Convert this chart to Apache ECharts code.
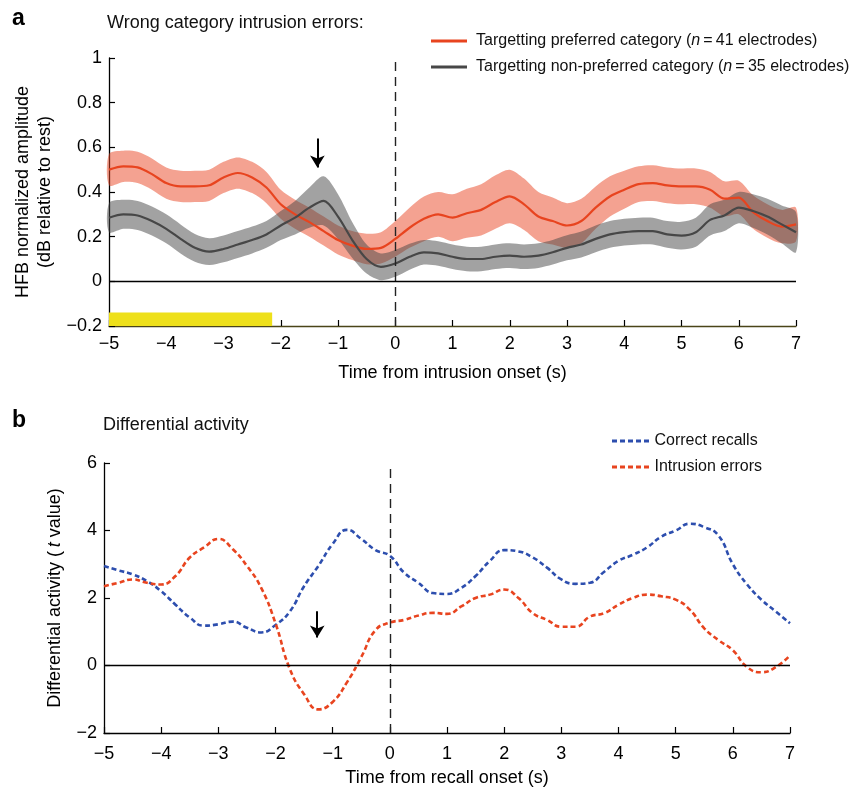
<!DOCTYPE html>
<html><head><meta charset="utf-8">
<script src="https://cdn.jsdelivr.net/npm/echarts@6/dist/echarts.min.js"></script>
<style>html,body{margin:0;padding:0;background:#fff}#c{width:850px;height:792px}</style>
</head><body><div id="c"></div>
<script>
// ---------- Panel a data ----------
const timeA = [-5,-4.75,-4.5,-4.25,-4,-3.75,-3.5,-3.25,-3,-2.75,-2.5,-2.25,-2,-1.75,-1.5,-1.25,-1,-0.75,-0.5,-0.25,0,0.25,0.5,0.75,1,1.25,1.5,1.75,2,2.25,2.5,2.75,3,3.25,3.5,3.75,4,4.25,4.5,4.75,5,5.25,5.5,5.75,6,6.25,6.5,6.75,7];
const preferredMean = [0.50,0.515,0.51,0.48,0.44,0.425,0.425,0.43,0.465,0.485,0.465,0.42,0.345,0.30,0.265,0.225,0.185,0.16,0.145,0.15,0.19,0.24,0.28,0.30,0.285,0.305,0.32,0.355,0.38,0.345,0.29,0.27,0.25,0.27,0.33,0.38,0.41,0.435,0.44,0.43,0.425,0.425,0.41,0.37,0.375,0.31,0.27,0.245,0.255];
const preferredSE = [0.07,0.07,0.07,0.07,0.07,0.07,0.07,0.07,0.07,0.07,0.07,0.07,0.065,0.065,0.065,0.065,0.065,0.065,0.068,0.07,0.08,0.09,0.1,0.1,0.105,0.11,0.115,0.12,0.12,0.115,0.11,0.105,0.1,0.1,0.095,0.09,0.085,0.08,0.08,0.08,0.08,0.08,0.08,0.078,0.075,0.075,0.075,0.075,0.075];
const nonPreferredMean = [0.285,0.30,0.295,0.27,0.235,0.19,0.15,0.133,0.145,0.165,0.185,0.21,0.25,0.285,0.33,0.36,0.29,0.185,0.10,0.065,0.08,0.11,0.13,0.125,0.11,0.10,0.10,0.11,0.115,0.11,0.115,0.13,0.15,0.165,0.19,0.21,0.22,0.225,0.225,0.21,0.205,0.22,0.275,0.295,0.33,0.315,0.29,0.255,0.22];
const nonPreferredSE = [0.065,0.065,0.065,0.065,0.065,0.065,0.062,0.06,0.06,0.06,0.06,0.06,0.065,0.075,0.09,0.11,0.1,0.08,0.065,0.06,0.06,0.058,0.055,0.055,0.055,0.055,0.055,0.055,0.055,0.055,0.055,0.055,0.056,0.058,0.06,0.06,0.06,0.06,0.06,0.06,0.062,0.065,0.07,0.07,0.07,0.075,0.08,0.085,0.09];
const xTicksA = [-5,7,1];          // min, max, interval
const yTicksA = [-0.2,1,0.2];
const yellowBar = [-5,-2.15,-0.2,-0.14];   // x0, x1, y0, y1
const arrowA = [-1.36,0.64,0.51];         // x, yStart, yEnd

// ---------- Panel b data ----------
const timeB = [-5,-4.75,-4.5,-4.25,-4,-3.75,-3.5,-3.25,-3,-2.75,-2.5,-2.25,-2,-1.75,-1.5,-1.25,-1,-0.75,-0.5,-0.25,0,0.25,0.5,0.75,1,1.25,1.5,1.75,2,2.25,2.5,2.75,3,3.25,3.5,3.75,4,4.25,4.5,4.75,5,5.25,5.5,5.75,6,6.25,6.5,6.75,7];
const correctRecalls = [2.95,2.82,2.7,2.5,2.2,1.8,1.42,1.18,1.22,1.3,1.12,0.98,1.2,1.6,2.35,2.95,3.6,4.02,3.75,3.42,3.25,2.75,2.45,2.15,2.12,2.3,2.65,3.1,3.42,3.38,3.2,2.9,2.55,2.42,2.45,2.78,3.1,3.28,3.5,3.82,4.0,4.2,4.1,3.85,3.0,2.4,1.95,1.6,1.25];
const intrusionErrors = [2.35,2.45,2.55,2.45,2.4,2.65,3.2,3.5,3.75,3.45,2.95,2.3,1.25,-0.1,-0.85,-1.3,-1.08,-0.5,0.25,1.05,1.27,1.35,1.48,1.56,1.53,1.75,2.0,2.1,2.25,2.0,1.55,1.35,1.15,1.15,1.45,1.55,1.8,2.0,2.1,2.05,1.95,1.65,1.1,0.75,0.45,-0.05,-0.2,-0.05,0.3];
const xTicksB = [-5,7,1];
const yTicksB = [-2,6,2];
const arrowB = [-1.27,1.61,0.83];

// ---------- helpers ----------
const FONT = '"Liberation Sans", Arial, Helvetica, sans-serif';
const fmt = v => { const r = +(+v).toFixed(1); return String(r).replace('-', '\u2212'); };
const pairs = (xs, ys) => xs.map((x, i) => [x, ys[i]]);

const RED = '#E8441F', GRAY = '#474747', BLUE = '#2D4EAE';
const DASH_ICON = 'path://M0,0h5v3h-5z M8,0h5v3h-5z M16,0h5v3h-5z M24,0h5v3h-5z M32,0h5v3h-5z';

function bandRender(times, mean, se, color) {
  return function (params, api) {
    if (params.dataIndex !== 0) return null;
    const up = times.map((t, i) => api.coord([t, mean[i] + se[i]]));
    const lo = times.map((t, i) => api.coord([t, mean[i] - se[i]])).reverse();
    return {
      type: 'group',
      children: [
        {type: 'polyline', shape: {points: up, smooth: 0.3}, style: {stroke: 'none', fill: null}},
        {type: 'polygon', shape: {points: up.concat(lo), smooth: 0.3}, style: {fill: color}}
      ]
    };
  };
}

function xAxisCfg(grid, ticks, name, gap, margin, lineColor) {
  return {
    gridIndex: grid, type: 'value', min: ticks[0], max: ticks[1], interval: ticks[2],
    axisLine: {onZero: false, lineStyle: {color: lineColor, width: 1.3}},
    axisTick: {inside: true, length: 6, lineStyle: {color: '#000', width: 1.2}},
    axisLabel: {formatter: fmt, fontSize: 18, color: '#000', margin: margin, fontFamily: FONT},
    splitLine: {show: false},
    name: name, nameLocation: 'middle', nameGap: gap,
    nameTextStyle: {fontSize: 18, color: '#000', fontFamily: FONT}
  };
}
function yAxisCfg(grid, ticks, name, gap, rich) {
  return {
    gridIndex: grid, type: 'value', min: ticks[0], max: ticks[1], interval: ticks[2],
    axisLine: {onZero: false, lineStyle: {color: '#000', width: 1.3}},
    axisTick: {inside: true, length: 6, lineStyle: {color: '#000', width: 1.2}},
    axisLabel: {formatter: fmt, fontSize: 18, color: '#000', margin: 7, fontFamily: FONT},
    splitLine: {show: false},
    name: name, nameLocation: 'middle', nameGap: gap, nameRotate: 90,
    nameTextStyle: Object.assign({fontSize: 18, color: '#000', fontFamily: FONT, lineHeight: 22}, rich ? {rich: rich} : {})
  };
}

const chart = echarts.init(document.getElementById('c'));
const legendRich = {
  t: {fontSize: 16, color: '#111', fontFamily: FONT},
  i: {fontSize: 16, color: '#111', fontStyle: 'italic', fontFamily: FONT}
};
const option = {
  animation: false,
  backgroundColor: '#fff',
  textStyle: {fontFamily: FONT},
  title: [
    {text: 'a', left: 12, top: 7, padding: 0, textStyle: {fontSize: 23, fontWeight: 'bold', color: '#000', fontFamily: FONT}},
    {text: 'Wrong category intrusion errors:', left: 107, top: 14, padding: 0, textStyle: {fontSize: 18, fontWeight: 'normal', color: '#111', fontFamily: FONT}},
    {text: 'b', left: 12, top: 409, padding: 0, textStyle: {fontSize: 23, fontWeight: 'bold', color: '#000', fontFamily: FONT}},
    {text: 'Differential activity', left: 103, top: 416, padding: 0, textStyle: {fontSize: 18, fontWeight: 'normal', color: '#111', fontFamily: FONT}}
  ],
  legend: [
    {
      data: [{name: 'pref', icon: 'rect'}, {name: 'nonpref', icon: 'rect'}],
      orient: 'vertical', left: 431, top: 32, padding: 0,
      itemWidth: 36, itemHeight: 3, itemGap: 8,
      formatter: n => n === 'pref'
        ? '{t|Targetting preferred category (}{i|n}{t|\u2009=\u200941 electrodes)}'
        : '{t|Targetting non-preferred category (}{i|n}{t|\u2009=\u200935 electrodes)}',
      textStyle: {rich: legendRich, lineHeight: 18, padding: [0, 0, 0, 4]},
      selectedMode: false
    },
    {
      data: [{name: 'Correct recalls', icon: DASH_ICON}, {name: 'Intrusion errors', icon: DASH_ICON}],
      orient: 'vertical', left: 612, top: 432, padding: 0,
      itemWidth: 38, itemHeight: 3, itemGap: 8,
      textStyle: {fontSize: 16, color: '#111', lineHeight: 18, fontFamily: FONT},
      selectedMode: false
    }
  ],
  grid: [
    {left: 109, right: 54, top: 58, height: 268},
    {left: 104, right: 60, top: 463, height: 270}
  ],
  xAxis: [
    xAxisCfg(0, xTicksA, 'Time from intrusion onset (s)', 38, 9, '#4a4418'),
    xAxisCfg(1, xTicksB, 'Time from recall onset (s)', 36, 12, '#000')
  ],
  yAxis: [
    yAxisCfg(0, yTicksA, 'HFB normalized amplitude\n(dB relative to rest)', 51),
    yAxisCfg(1, yTicksB, '{t|Differential activity (\u2009}{i|t}{t| value)}', 38, {
      t: {fontSize: 18, color: '#000', fontFamily: FONT},
      i: {fontSize: 18, color: '#000', fontStyle: 'italic', fontFamily: FONT}
    })
  ],
  series: [
    // SE bands
    {name: 'prefBand', type: 'custom', xAxisIndex: 0, yAxisIndex: 0, silent: true, z: 1,
     data: pairs(timeA, preferredMean),
     renderItem: bandRender(timeA, preferredMean, preferredSE, 'rgba(234,70,36,0.5)'),
     markArea: {silent: true, itemStyle: {color: '#EEE01A', opacity: 1},
       data: [[{xAxis: yellowBar[0], yAxis: yellowBar[2]}, {xAxis: yellowBar[1], yAxis: yellowBar[3]}]]}},
    {name: 'nonBand', type: 'custom', xAxisIndex: 0, yAxisIndex: 0, silent: true, z: 2,
     data: pairs(timeA, nonPreferredMean),
     renderItem: bandRender(timeA, nonPreferredMean, nonPreferredSE, 'rgba(70,70,70,0.5)')},
    // means
    {name: 'pref', type: 'line', xAxisIndex: 0, yAxisIndex: 0, data: pairs(timeA, preferredMean),
     smooth: 0.3, symbol: 'none', lineStyle: {color: RED, width: 2.2}, itemStyle: {color: RED}, silent: true, z: 4,
     markLine: {silent: true, symbol: ['none', 'none'], label: {show: false}, animation: false,
       data: [
         {xAxis: 0, lineStyle: {color: '#222', type: [9, 6], width: 1.4}},
         {yAxis: 0, lineStyle: {color: '#000', type: 'solid', width: 1.4}},
         [{coord: [arrowA[0], arrowA[1]], symbol: 'none'},
          {coord: [arrowA[0], arrowA[2]], symbol: 'arrow', symbolSize: [11, 12]}]
       ],
       lineStyle: {color: '#000', type: 'solid', width: 2}}},
    {name: 'nonpref', type: 'line', xAxisIndex: 0, yAxisIndex: 0, data: pairs(timeA, nonPreferredMean),
     smooth: 0.3, symbol: 'none', lineStyle: {color: GRAY, width: 2.2}, itemStyle: {color: GRAY}, silent: true, z: 4},
    // panel b
    {name: 'Correct recalls', type: 'line', xAxisIndex: 1, yAxisIndex: 1, data: pairs(timeB, correctRecalls),
     smooth: 0.5, symbol: 'none', lineStyle: {color: BLUE, width: 2.6, type: [5, 3]}, itemStyle: {color: BLUE}, silent: true, z: 4,
     markLine: {silent: true, symbol: ['none', 'none'], label: {show: false}, animation: false,
       data: [
         {xAxis: 0, lineStyle: {color: '#222', type: [9, 6], width: 1.4}},
         {yAxis: 0, lineStyle: {color: '#000', type: 'solid', width: 1.4}},
         [{coord: [arrowB[0], arrowB[1]], symbol: 'none'},
          {coord: [arrowB[0], arrowB[2]], symbol: 'arrow', symbolSize: [11, 12]}]
       ],
       lineStyle: {color: '#000', type: 'solid', width: 2}}},
    {name: 'Intrusion errors', type: 'line', xAxisIndex: 1, yAxisIndex: 1, data: pairs(timeB, intrusionErrors),
     smooth: 0.5, symbol: 'none', lineStyle: {color: RED, width: 2.6, type: [5, 3]}, itemStyle: {color: RED}, silent: true, z: 4}
  ]
};
chart.setOption(option);
</script>
</body></html>
